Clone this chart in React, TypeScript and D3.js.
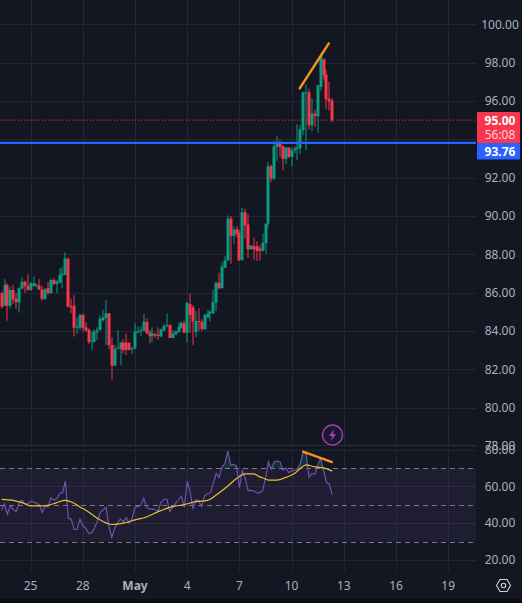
import React from "react";
import * as d3 from "d3";

const opens = [85.97,85.31,86.40,85.31,86.14,85.70,85.48,86.21,86.56,86.35,86.14,86.35,86.35,86.38,86.17,85.67,86.24,85.97,86.66,86.45,86.52,86.90,86.92,87.76,85.31,85.31,84.17,84.17,84.84,84.19,84.05,83.44,83.44,83.93,84.05,84.57,84.68,84.92,83.27,82.19,83.06,83.08,83.39,83.39,83.39,83.06,83.08,83.91,84.00,84.02,84.47,83.91,83.74,83.84,83.81,83.71,84.02,84.26,84.31,83.63,83.84,83.95,84.16,84.40,83.91,85.41,85.23,83.95,84.52,84.47,84.10,84.71,84.92,84.92,85.48,86.52,86.23,
87.30,87.69,89.86,88.96,89.29,89.13,87.69,90.19,89.55,88.26,88.42,88.42,88.30,88.21,88.59,89.60,92.59,91.96,93.60,93.77,93.63,92.97,93.57,93.08,93.43,93.50,93.53,94.47,96.40,96.45,94.73,95.34,95.20,96.73,98.17,97.37,96.12,96.03];
const closes = [85.27,86.40,85.31,86.14,85.65,85.51,86.23,86.56,86.35,86.14,86.49,86.49,86.40,86.17,85.67,86.17,85.97,86.66,86.45,86.57,86.92,86.97,87.79,85.27,85.23,84.17,84.23,84.84,84.17,84.02,83.44,83.48,83.97,84.02,84.63,84.71,84.92,83.27,82.19,83.06,83.11,83.39,83.01,83.01,83.01,83.11,83.95,84.00,84.05,84.50,83.88,83.74,83.88,83.76,83.74,84.09,84.26,84.31,83.63,83.88,83.98,84.19,84.42,83.91,85.46,84.84,84.49,84.52,84.47,84.10,84.84,84.91,85.01,85.51,86.52,86.23,87.36,
87.69,89.86,88.96,89.29,89.08,87.69,90.19,89.51,88.26,88.47,88.26,88.17,88.17,88.61,89.60,92.59,91.96,93.63,93.77,93.60,92.97,93.57,93.08,93.43,93.51,93.57,94.52,96.45,96.45,94.73,95.34,95.20,96.82,98.33,97.34,96.10,95.98,95.00];
const highs = [86.05,86.70,86.49,86.31,86.40,85.97,86.28,86.82,86.63,86.96,86.57,86.84,86.49,86.71,86.35,86.23,86.57,86.75,86.75,86.66,87.27,87.32,88.10,87.84,85.70,85.88,84.71,84.89,84.92,84.45,84.14,83.97,84.09,84.19,84.80,85.10,85.62,84.92,83.67,83.27,84.05,83.44,83.57,83.84,83.39,83.18,84.40,84.23,84.23,84.89,84.66,84.05,84.19,83.91,84.19,84.12,84.37,84.92,84.35,84.05,84.02,84.44,84.49,84.54,85.53,85.93,85.35,85.04,85.18,84.61,84.89,85.13,85.04,86.14,86.57,87.04,87.57,
87.90,90.03,89.98,89.43,89.48,89.29,90.43,90.38,90.09,88.47,88.87,88.68,88.47,89.08,89.60,92.80,92.68,93.90,94.16,93.95,93.69,93.60,93.60,93.57,93.63,94.78,94.73,96.49,96.85,96.64,96.12,95.55,96.82,98.47,98.21,97.63,96.99,96.14];
const lows = [85.18,85.31,84.54,85.18,85.41,85.15,84.96,86.17,86.00,86.10,86.10,86.31,86.28,86.14,85.58,85.62,85.88,85.97,86.40,85.97,86.49,86.23,86.92,85.23,84.92,83.71,83.84,84.05,83.97,83.97,83.32,83.01,83.39,83.53,84.02,84.49,83.27,83.06,81.44,82.19,83.06,82.19,82.84,82.75,82.98,82.80,83.04,83.88,83.74,83.97,83.84,83.36,83.44,83.62,83.53,83.67,83.98,84.19,83.63,83.63,83.74,83.91,84.12,83.88,83.39,83.91,83.27,83.67,84.02,84.00,84.05,84.66,84.49,84.89,85.04,86.17,86.23,
87.30,87.65,87.51,88.56,88.90,87.65,87.69,88.82,87.81,88.24,87.72,87.65,87.69,88.12,88.04,89.36,91.76,91.86,92.87,93.08,92.38,92.70,93.03,92.59,93.29,92.90,93.25,94.21,93.43,94.50,94.42,94.64,94.33,96.52,97.08,95.58,95.51,94.89];
const rsiValues = [47.2,50.5,44.9,49.4,47.6,46.3,50.8,52.6,50.8,50.5,51.9,51.5,50.8,49.9,45.8,49.4,48.7,53.9,52.6,53.2,56.2,56.6,62.9,42.7,42.3,36.6,36.6,42.2,38.6,37.3,34.4,34.6,37.3,40.9,45.8,47.2,48.7,38.2,32.3,37.3,40.4,42.2,40.9,43.1,40.0,42.7,48.7,49.0,49.8,53.5,48.7,47.6,47.8,47.2,46.9,51.4,53.0,53.0,46.3,48.7,50.8,52.6,54.8,48.7,62.9,57.1,48.1,52.6,52.2,49.0,55.0,55.9,56.6,61.6,67.0,64.9,70.6,72.4,79.3,71.5,72.0,71.0,59.3,68.5,64.3,57.7,57.8,57.5,56.4,56.6,57.7,64.3,73.3,69.4,73.3,73.9,73.3,68.8,70.1,67.6,68.3,68.8,69.2,72.4,78.7,77.8,64.9,67.0,66.5,71.5,75.1,68.8,62.2,61.3,55.5];
const maCandles = [0,4,7,10,13,16,19,22,25,27,29,33,36,38,42,46,50,54,59,63,67,71,74,78,81,84,87,89,90,92,95,98,101,103,105,108,111,114];
const maValues = [53.0,52.4,51.2,49.4,49.4,49.7,51.2,52.4,50.8,48.8,47.2,42.7,40.2,39.3,40.0,41.8,43.4,46.3,49.0,50.1,51.7,52.4,55.3,60.2,64.3,66.8,66.8,65.2,64.7,63.4,63.4,64.9,67.0,69.7,71.7,70.6,70.1,68.3];
const priceTicks = [100,98,96,94,92,90,88,86,84,82,80,78];
const rsiTicks = [80,60,40,20];
const rsiBands = [70,50,30];
const dateTickCandles = [10,28,46,64,82,100,118,136,154];
const dateTickLabels = ["25","28","May","4","7","10","13","16","19"];
const lastPrice = 95.0;
const alertPrice = 93.76;
const priceTrendCandles = [102.6,113];
const priceTrendValues = [96.61,99.04];
const rsiTrendCandles = [103.7,114.2];
const rsiTrendValues = [79.1,73.0];

const FONT = "'Noto Sans', sans-serif";
const BG = "#131722";
const GRID = "#232733";
const UP = "#0c9a80";
const DOWN = "#f7374d";
const TXT = "#adb0b9";
const ORANGE = "#f7931a";
const PLOT_R = 476;

const x = d3.scaleLinear().domain([0, 154]).range([1.6, 448.2]);
const yP = d3.scaleLinear().domain([88, 82]).range([254.3, 369.3]);
const yR = d3.scaleLinear().domain([60, 40]).range([486.4, 523.2]);

const rsiLine = d3.line<number>().x((_, i) => x(i)).y((d) => yR(d));
const rsiArea = d3.area<number>().x((_, i) => x(i)).y0(yR(rsiBands[0])).y1((d) => yR(d));
const maLine = d3.line<number>().x((_, i) => x(maCandles[i])).y((d) => yR(d)).curve(d3.curveMonotoneX);

export default function App() {
  return (
    <svg width={522} height={603} viewBox="0 0 522 603"
      style={{ position: "fixed", left: 0, top: 0, display: "block", background: BG }}>
      <defs>
        <clipPath id="price"><rect x={0} y={0} width={PLOT_R} height={446} /></clipPath>
        <clipPath id="rsi"><rect x={0} y={449} width={PLOT_R} height={122} /></clipPath>
        <clipPath id="over"><rect x={0} y={449} width={PLOT_R} height={yR(rsiBands[0]) - 449} /></clipPath>
      </defs>
      <rect width={522} height={603} fill={BG} />
      <rect x={0} y={599} width={522} height={4} fill="#0b0d12" />

      {/* grid */}
      {dateTickCandles.map((c) => (
        <g key={c}>
          <line x1={Math.round(x(c)) + 0.5} x2={Math.round(x(c)) + 0.5} y1={0} y2={446} stroke={GRID} />
          <line x1={Math.round(x(c)) + 0.5} x2={Math.round(x(c)) + 0.5} y1={449} y2={571} stroke={GRID} />
        </g>
      ))}
      {priceTicks.slice(0, 11).map((p) => (
        <line key={p} x1={0} x2={PLOT_R} y1={Math.round(yP(p)) + 0.5} y2={Math.round(yP(p)) + 0.5} stroke={GRID} />
      ))}
      {rsiTicks.map((p) => (
        <line key={p} x1={0} x2={PLOT_R} y1={Math.round(yR(p)) + 0.5} y2={Math.round(yR(p)) + 0.5} stroke={GRID} />
      ))}
      <line x1={0} x2={PLOT_R} y1={445.5} y2={445.5} stroke="#2a2e39" />

      {/* candles */}
      <g clipPath="url(#price)">
        {opens.map((o, i) => {
          const c = closes[i];
          const col = c >= o ? UP : DOWN;
          const cx = Math.round(x(i));
          const top = yP(Math.max(o, c));
          const bot = yP(Math.min(o, c));
          return (
            <g key={i} fill={col}>
              <rect x={cx - 0.5} width={1} y={yP(highs[i])} height={yP(lows[i]) - yP(highs[i])} />
              <rect x={cx - 1.5} width={3} y={top} height={Math.max(1, bot - top)} />
            </g>
          );
        })}
      </g>

      {/* price lines */}
      <line x1={0} x2={PLOT_R} y1={yP(lastPrice)} y2={yP(lastPrice)} stroke={DOWN} strokeDasharray="1 2" />
      <line x1={0} x2={PLOT_R} y1={yP(alertPrice) - 1} y2={yP(alertPrice) - 1} stroke="#2962ff" strokeWidth={2.2} />
      <line x1={x(priceTrendCandles[0])} x2={x(priceTrendCandles[1])}
        y1={yP(priceTrendValues[0])} y2={yP(priceTrendValues[1])} stroke={ORANGE} strokeWidth={2.4} />

      {/* RSI pane */}
      <rect x={0} width={PLOT_R} y={yR(rsiBands[0])} height={yR(rsiBands[2]) - yR(rsiBands[0])} fill="#7e57c2" fillOpacity={0.1} />
      {rsiBands.map((b) => (
        <line key={b} x1={0} x2={PLOT_R} y1={Math.round(yR(b)) + 0.5} y2={Math.round(yR(b)) + 0.5} stroke="#787b86" strokeDasharray="5 4" />
      ))}
      <path d={rsiArea(rsiValues) ?? ""} fill={UP} fillOpacity={0.22} clipPath="url(#over)" />
      <g clipPath="url(#rsi)" fill="none">
        <path d={rsiLine(rsiValues) ?? ""} stroke="#7352b5" strokeWidth={1.15} />
        <path d={maLine(maValues) ?? ""} stroke="#e9c32a" strokeWidth={1.2} />
        <line x1={x(rsiTrendCandles[0])} x2={x(rsiTrendCandles[1])}
          y1={yR(rsiTrendValues[0])} y2={yR(rsiTrendValues[1])} stroke={ORANGE} strokeWidth={2.4} />
      </g>

      {/* lightning badge */}
      <g transform="translate(332.5 435)">
        <circle r={10} fill="#1b1730" stroke="#a040b0" strokeWidth={1.4} />
        <path d="M1.6 -6 L-3.6 1 L-0.4 1 L-1.6 6 L3.6 -1 L0.4 -1 Z" fill="#a040b0" />
      </g>

      {/* axes */}
      <g fontFamily={FONT} fontSize={12} fill={TXT} textAnchor="middle">
        {priceTicks.map((p) => (
          <text key={p} x={500} y={yP(p) + 4.2}>{p.toFixed(2)}</text>
        ))}
        {rsiTicks.map((p) => (
          <text key={p} x={500} y={yR(p) + 4.2}>{p.toFixed(2)}</text>
        ))}
        {dateTickCandles.map((c, i) => (
          <text key={c} x={x(c)} y={589.5} fontWeight={dateTickLabels[i] === "May" ? 700 : 400}>{dateTickLabels[i]}</text>
        ))}
      </g>

      <rect x={477} y={112} width={43} height={31} fill={DOWN} rx={1} />
      <rect x={477} y={143} width={43} height={16.5} fill="#2962ff" rx={1} />
      <g fontFamily={FONT} fontSize={12} textAnchor="middle">
        <text x={500} y={124.5} fill="#fff" fontWeight={700}>{lastPrice.toFixed(2)}</text>
        <text x={500} y={138.5} fill="#ffd0d5">56:08</text>
        <text x={500} y={155.7} fill="#fff" fontWeight={700}>{alertPrice.toFixed(2)}</text>
      </g>

      {/* settings gear */}
      <g transform="translate(503.5 585.5)" fill="none" stroke="#d1d4dc" strokeWidth={1.1}>
        <path d="M-7 0 L-3.5 -6 L3.5 -6 L7 0 L3.5 6 L-3.5 6 Z" />
        <circle r={2.2} />
      </g>
    </svg>
  );
}
